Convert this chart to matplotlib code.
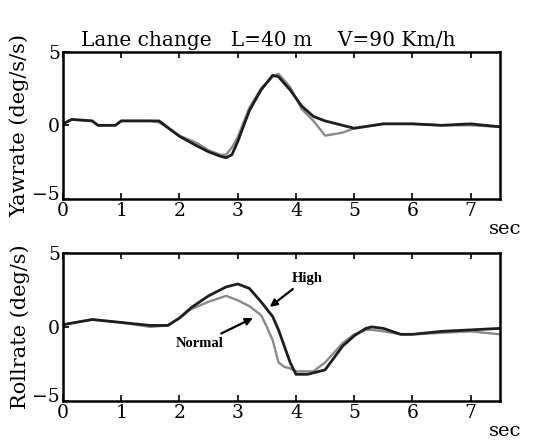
import matplotlib.pyplot as plt
import matplotlib.transforms as mtransforms
import numpy as np

plt.rcParams['font.family'] = ['DejaVu Serif']

# yawrate
t_yaw = [0, 0.15, 0.5, 0.6, 0.9, 1.0, 1.5, 1.65, 2.0, 2.3, 2.5, 2.7, 2.8, 2.9, 3.0, 3.2, 3.4,
         3.6, 3.7, 3.9, 4.1, 4.3, 4.5, 4.8, 5.0, 5.5, 6.0, 6.5, 7.0, 7.5]
yaw_high = [0.1, 0.4, 0.3, 0.0, 0.0, 0.3, 0.3, 0.3, -0.75, -1.4, -1.8, -2.1, -2.2, -2.0, -1.1,
            1.0, 2.4, 3.4, 3.3, 2.4, 1.3, 0.6, 0.3, 0.0, -0.2, 0.1, 0.1, 0.0, 0.1, -0.1]
yaw_norm = [0.1, 0.4, 0.3, 0.0, 0.0, 0.3, 0.3, 0.2, -0.7, -1.2, -1.7, -2.0, -2.0, -1.5, -0.8,
            1.2, 2.5, 3.3, 3.5, 2.6, 1.1, 0.3, -0.7, -0.5, -0.2, 0.1, 0.1, 0.0, 0.0, -0.1]

# rollrate
t_roll = [0, 0.5, 1.0, 1.5, 1.8, 2.0, 2.2, 2.5, 2.8, 3.0, 3.2, 3.4, 3.5, 3.6, 3.7, 3.8, 3.9,
          4.0, 4.2, 4.3, 4.5, 4.8, 5.0, 5.2, 5.3, 5.5, 5.8, 6.0, 6.5, 7.0, 7.5]
roll_high = [0.15, 0.5, 0.3, 0.1, 0.1, 0.6, 1.3, 2.1, 2.7, 2.9, 2.6, 1.7, 1.2, 0.7, -0.2, -1.3,
             -2.4, -3.2, -3.2, -3.1, -2.9, -1.3, -0.6, -0.1, 0.0, -0.1, -0.5, -0.5, -0.3, -0.2, -0.1]
roll_norm = [0.15, 0.5, 0.3, 0.0, 0.1, 0.6, 1.2, 1.7, 2.1, 1.8, 1.4, 0.8, 0.0, -0.9, -2.4, -2.7,
             -2.8, -3.0, -3.0, -3.0, -2.4, -1.1, -0.5, -0.2, -0.2, -0.3, -0.5, -0.5, -0.4, -0.3, -0.5]

dark = '#1e1e1e'
gray = '#8a8a8a'

fig = plt.figure(figsize=(5.34, 4.46), dpi=100)
ax1 = fig.add_axes([0.118, 0.554, 0.818, 0.330])
ax2 = fig.add_axes([0.118, 0.101, 0.818, 0.332])

ax1.plot(t_yaw, yaw_norm, color=gray, lw=1.7)
ax1.plot(t_yaw, yaw_high, color=dark, lw=2.0)
ax2.plot(t_roll, roll_norm, color=gray, lw=1.7)
ax2.plot(t_roll, roll_high, color=dark, lw=2.0)

for ax in (ax1, ax2):
    ax.set_xlim(0, 7.5)
    ax.set_ylim(-5, 5)
    ax.set_xticks(range(8))
    ax.set_yticks([-5, 0, 5])
    ax.tick_params(direction='in', top=True, right=False, labelsize=13.5, pad=2, length=4, width=1.2)
    for s in ax.spines.values():
        s.set_linewidth(1.8)
    ax.text(0.975, -0.14, 'sec', transform=ax.transAxes, fontsize=14, ha='left', va='top')
    # nudge the -5 label up so it clears the x "0"
    fig.canvas.draw()
    lab = ax.get_yticklabels()[0]
    lab.set_transform(lab.get_transform() + mtransforms.ScaledTranslation(0, 4 / 72, fig.dpi_scale_trans))

ax1.set_ylabel('Yawrate (deg/s/s)', fontsize=15, labelpad=2)
ax2.set_ylabel('Rollrate (deg/s)', fontsize=15, labelpad=2)
ax1.set_title('Lane change   L=40 m    V=90 Km/h', fontsize=14.5, x=0.47, pad=4)

ax2.annotate('High', xy=(3.55, 1.35), xytext=(4.19, 3.3), fontsize=10.5, family='Liberation Serif',
             weight='bold', ha='center', va='center',
             arrowprops=dict(arrowstyle='-|>', color='black', lw=1.6, shrinkA=2, shrinkB=0))
ax2.annotate('Normal', xy=(3.26, 0.6), xytext=(2.35, -1.15), fontsize=10.5, family='Liberation Serif',
             weight='bold', ha='center', va='center',
             arrowprops=dict(arrowstyle='-|>', color='black', lw=1.6, shrinkA=2, shrinkB=0))

fig.savefig('out.png', dpi=100)
